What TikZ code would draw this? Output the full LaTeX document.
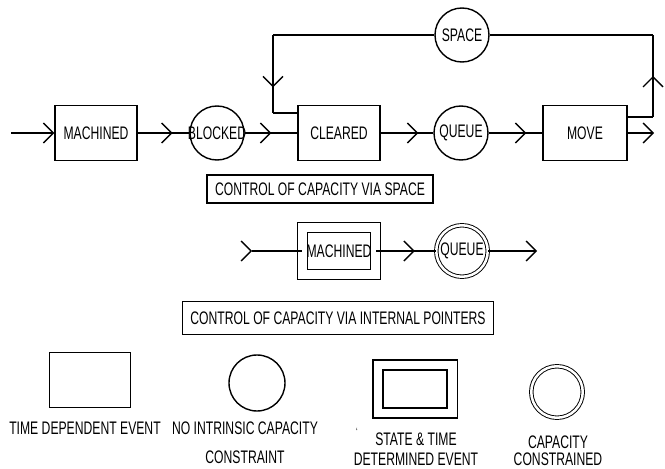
\documentclass[tikz,border=0pt]{standalone}
\usepackage{fontspec}
\setmainfont{Liberation Sans}[FakeStretch=0.67]
\usetikzlibrary{arrows.meta,decorations.markings}
\tikzset{chev/.tip={Straight Barb[length=3mm,width=6mm]}}

\begin{document}
\begin{tikzpicture}[
  x=0.3mm,y=-0.3mm,
  font=\fontsize{15.5}{17}\selectfont,
  line width=1.2pt,
  event/.style={draw,rectangle,minimum width=24.6mm,minimum height=16.5mm,inner sep=0pt},
  place/.style={draw,circle,minimum size=16.2mm,inner sep=0pt,
    execute at begin node={\hbox to 0pt\bgroup\hss},
    execute at end node={\hss\egroup}},
  stateevent/.style={draw,rectangle,double,double distance=2.6mm,
    minimum width=21.8mm,minimum height=14mm,inner sep=0pt},
  capplace/.style={place,line width=0.8pt,double,double distance=0.75mm,minimum size=15.45mm},
  caption/.style={draw,rectangle,inner xsep=2.4mm,inner ysep=0pt,minimum height=8.4mm},
  flow/.style={postaction={decorate},
    decoration={markings,mark=at position #1 with {\arrow{chev}}}},
  flow/.default=-5mm
]
\useasboundingbox (0,0) rectangle (665,469);

% capacity via space
\node[event] (machined) at (96,133) {MACHINED};
\node[place] (blocked) at (217,133) {BLOCKED};
\node[event] (cleared) at (339,133) {CLEARED};
\node[place] (queue) at (461,133) {QUEUE};
\node[event,minimum width=25.2mm] (move) at (585,133) {MOVE};
\node[place] (space) at (462,35) {SPACE};
\coordinate (in) at (11,133);
\coordinate (out) at (654,133);
\coordinate (r1) at (653,117);
\coordinate (r2) at (653,35);
\coordinate (l1) at (273,35);
\coordinate (l2) at (273,113);

\draw[-chev] (in) -- (machined.west);
\draw[flow=-5mm] (machined.east) -- (blocked.west);
\draw[flow=-7.8mm] (blocked.east) -- (cleared.west);
\draw[flow=-4.5mm] (cleared.east) -- (queue.west);
\draw[flow=-4.8mm] (queue.east) -- (move.west);
\draw[-chev] (move.east) -- (out);
\draw (move.east |- r1) -- (r1);
\draw[flow=0.5] (r1) -- (r2);
\draw (r2) -- (space.east);
\draw (space.west) -- (l1);
\draw[flow=0.67] (l1) -- (l2);
\draw (l2) -- (cleared.west |- l2);

\node[caption] (viaspace) at (320,189) {CONTROL OF CAPACITY VIA SPACE};

% capacity via internal pointers
\node[stateevent] (machined2) at (339,251) {MACHINED};
\node[capplace] (queue2) at (462,251) {QUEUE};
\coordinate (in2) at (252,251);
\coordinate (out2) at (537,251);
\draw[flow=0.1pt] (in2) -- (machined2.west);
\draw[flow=-6.3mm] (machined2.east) -- (queue2.west);
\draw[-chev] (queue2.east) -- (out2);

\node[caption,minimum height=10mm] (viapointers) at (338,318)
  {CONTROL OF CAPACITY VIA INTERNAL POINTERS};

% key
\node[event,minimum width=24.3mm] (keyevent) at (90,380) {};
\node[place,minimum size=16.8mm] (keyplace) at (257,383) {};
\node[stateevent,minimum width=22.3mm,minimum height=14.4mm] (keystate) at (415,389) {};
\node[capplace] (keycap) at (557,392) {};

\node (keyeventtext) at (85,428) {TIME DEPENDENT EVENT};
\node[align=center] (keyplacetext) at (245,443) {NO INTRINSIC CAPACITY\\[8pt]CONSTRAINT};
\node[font=\fontsize{9}{9}\selectfont] (tick) at (357,432) {‘};
\node[align=center] (keystatetext) at (416,449) {STATE \& TIME\\DETERMINED EVENT};
\node[align=center] (keycaptext) at (558,451) {CAPACITY\\[-2.5pt]CONSTRAINED};
\end{tikzpicture}
\end{document}
